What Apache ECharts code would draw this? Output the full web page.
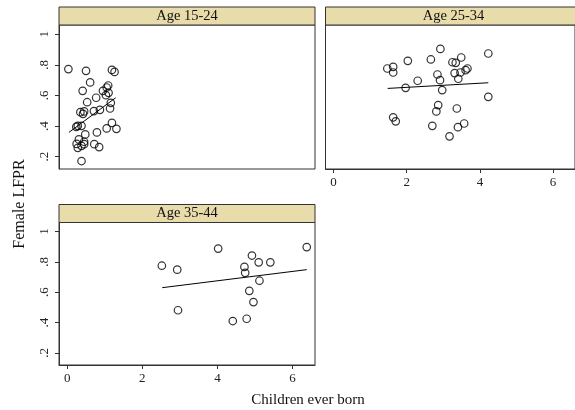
<!DOCTYPE html>
<html>
<head>
<meta charset="utf-8">
<script src="https://cdn.jsdelivr.net/npm/echarts@6/dist/echarts.min.js"></script>
<style>
  html, body { margin: 0; padding: 0; background: #fff; }
  #chart { width: 575px; height: 410px; }
</style>
</head>
<body>
<div id="chart"></div>
<script>
// 패널 제목
const panelTitles = ['Age 15-24', 'Age 25-34', 'Age 35-44'];

// 축 눈금
const xTicks = [0, 2, 4, 6];
const yTicks = [0.2, 0.4, 0.6, 0.8, 1];

// Age 15-24 : [children ever born, female LFPR]
const age1524 = [
    [0.03, 0.772], [0.50, 0.761], [1.19, 0.767], [1.26, 0.754], [0.61, 0.685],
    [0.41, 0.630], [1.09, 0.665], [1.05, 0.652], [0.95, 0.630], [1.10, 0.617],
    [1.03, 0.602], [0.77, 0.585], [0.53, 0.556], [1.16, 0.552], [0.35, 0.491],
    [0.45, 0.496], [0.42, 0.480], [0.71, 0.498], [0.87, 0.506], [1.14, 0.515],
    [0.28, 0.402], [0.38, 0.402], [0.24, 0.395], [1.05, 0.385], [1.19, 0.421],
    [1.31, 0.382], [0.79, 0.359], [0.48, 0.346], [0.31, 0.313], [0.45, 0.298],
    [0.25, 0.284], [0.45, 0.282], [0.72, 0.282], [0.85, 0.263], [0.28, 0.258],
    [0.38, 0.271], [0.38, 0.172]
];

// Age 25-34
const age2534 = [
    [2.92, 0.904], [4.23, 0.874], [3.49, 0.848], [2.03, 0.826], [2.66, 0.835],
    [3.25, 0.817], [3.34, 0.813], [1.63, 0.787], [1.47, 0.776], [1.63, 0.750],
    [3.66, 0.776], [3.61, 0.765], [3.47, 0.750], [3.31, 0.746], [2.84, 0.737],
    [2.91, 0.700], [3.41, 0.709], [2.30, 0.696], [1.97, 0.650], [2.97, 0.635],
    [4.23, 0.591], [2.86, 0.537], [2.81, 0.496], [3.37, 0.515], [1.63, 0.457],
    [1.70, 0.431], [2.70, 0.402], [3.57, 0.417], [3.40, 0.393], [3.17, 0.333]
];

// Age 35-44
const age3544 = [
    [4.02, 0.888], [6.38, 0.898], [4.92, 0.842], [5.10, 0.797], [5.41, 0.797],
    [2.52, 0.775], [2.93, 0.749], [4.72, 0.767], [4.74, 0.728], [5.12, 0.676],
    [4.85, 0.609], [4.96, 0.535], [2.95, 0.481], [4.78, 0.425], [4.41, 0.410]
];

// 적합선 양 끝점
const fit1524 = [[0.045, 0.359], [1.29, 0.585]];
const fit2534 = [[1.48, 0.646], [4.23, 0.683]];
const fit3544 = [[2.53, 0.630], [6.38, 0.749]];

const FONT = 'Liberation Serif';
const FRAME = '#333';
const STRIP = '#e9dcab';

// 패널 위치 (px)
const panels = [
    { left: 59, top: 25, width: 256, height: 144, showX: false, showY: true },
    { left: 325.5, top: 25, width: 256, height: 144, showX: true, showY: false },
    { left: 59, top: 222.5, width: 256, height: 142.5, showX: true, showY: true }
];
const stripH = 18;

const fmtY = v => (v === 1 ? '1' : String(v).replace(/^0/, ''));

const grid = panels.map(p => ({
    left: p.left, top: p.top, width: p.width, height: p.height,
    show: true, borderColor: FRAME, borderWidth: 1, backgroundColor: '#fff'
}));

const xAxis = panels.map((p, i) => ({
    type: 'value', gridIndex: i, min: -0.22, max: 6.6,
    splitLine: { show: false },
    axisLine: { show: p.showX, onZero: false, lineStyle: { color: FRAME } },
    axisTick: { show: p.showX, length: 4, customValues: xTicks, lineStyle: { color: FRAME } },
    axisLabel: {
        show: p.showX, customValues: xTicks, margin: 7,
        fontFamily: FONT, fontSize: 13, color: '#222'
    }
}));

const yAxis = panels.map((p, i) => ({
    type: 'value', gridIndex: i, min: 0.12, max: 1.06,
    splitLine: { show: false },
    axisLine: { show: p.showY, onZero: false, lineStyle: { color: FRAME } },
    axisTick: { show: p.showY, length: 4, customValues: yTicks, lineStyle: { color: FRAME } },
    axisLabel: {
        show: p.showY, customValues: yTicks, rotate: 90, margin: 8,
        formatter: fmtY, fontFamily: FONT, fontSize: 13, color: '#222'
    }
}));

const scatterSets = [age1524, age2534, age3544];
const fitSets = [fit1524, fit2534, fit3544];

const series = [];
scatterSets.forEach((d, i) => {
    series.push({
        type: 'scatter', xAxisIndex: i, yAxisIndex: i, data: d,
        symbol: 'circle', symbolSize: 7.5,
        itemStyle: { color: 'rgba(255,255,255,0)', borderColor: '#000', borderWidth: 1.2 },
        silent: true
    });
    series.push({
        type: 'line', xAxisIndex: i, yAxisIndex: i, data: fitSets[i],
        symbol: 'none', lineStyle: { color: '#000', width: 1 }, silent: true
    });
});

// 패널 상단 스트립 (제목 띠)
const graphic = [];
panels.forEach((p, i) => {
    graphic.push({
        type: 'rect', z: 10,
        shape: { x: p.left, y: p.top - stripH, width: p.width, height: stripH },
        style: { fill: STRIP, stroke: FRAME, lineWidth: 1 }
    });
    graphic.push({
        type: 'text', z: 11,
        x: p.left + 128, y: p.top - stripH / 2,
        style: {
            text: panelTitles[i], fontFamily: FONT, fontSize: 14.5, fill: '#111',
            align: 'center', verticalAlign: 'middle'
        }
    });
});

// 공통 축 제목
graphic.push({
    type: 'text', x: 20, y: 204, rotation: Math.PI / 2,
    style: {
        text: 'Female LFPR', fontFamily: FONT, fontSize: 16, fill: '#111',
        align: 'center', verticalAlign: 'middle'
    }
});
graphic.push({
    type: 'text', x: 308, y: 400,
    style: {
        text: 'Children ever born', fontFamily: FONT, fontSize: 15, fill: '#111',
        align: 'center', verticalAlign: 'middle'
    }
});

const chart = echarts.init(document.getElementById('chart'), null, { renderer: 'canvas' });
chart.setOption({
    animation: false,
    backgroundColor: '#fff',
    grid, xAxis, yAxis, series, graphic
});
</script>
</body>
</html>
